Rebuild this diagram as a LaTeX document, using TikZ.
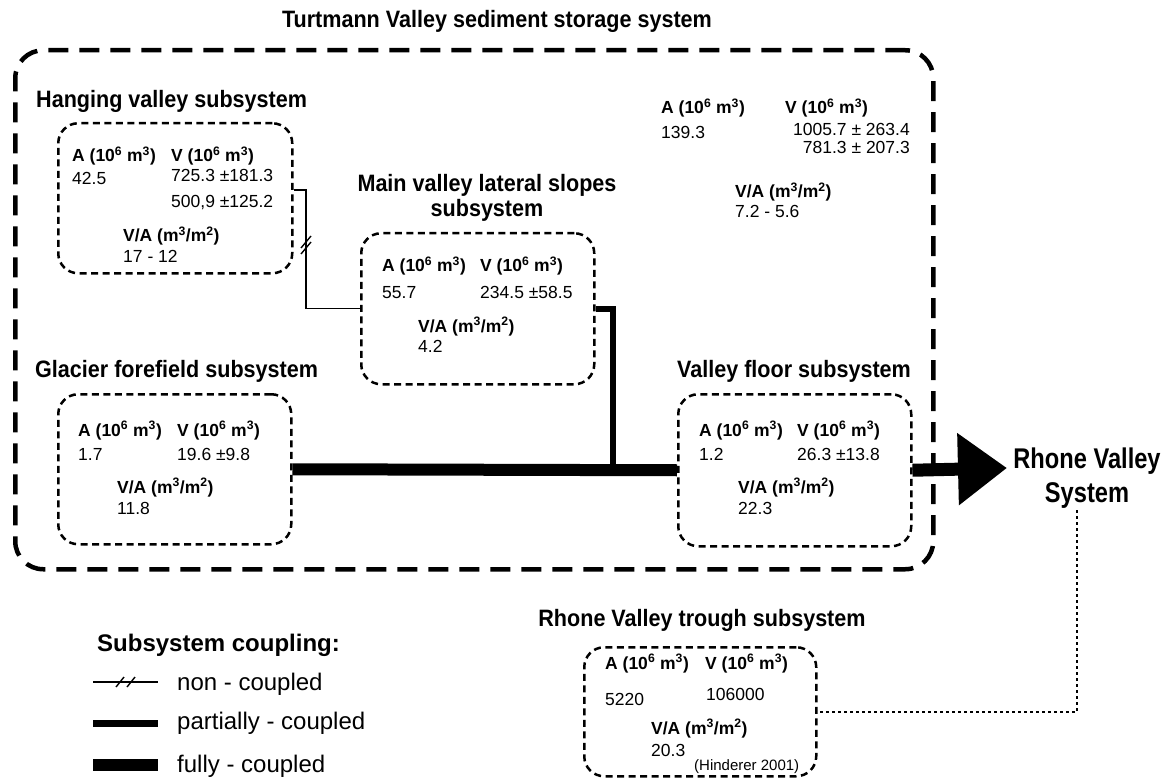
\documentclass[tikz,border=0pt]{standalone}
\usepackage{fontspec}
\setmainfont{Liberation Sans}
\newfontfamily\condfont[FakeStretch=0.91]{Liberation Sans}
\newfontfamily\narrowfont[FakeStretch=0.83]{Liberation Sans}
\usetikzlibrary{arrows.meta}

% unit labels used in every storage box
\newcommand\Aunit{A (10\textsuperscript{6} m\textsuperscript{3})}
\newcommand\Vunit{V (10\textsuperscript{6} m\textsuperscript{3})}
\newcommand\VAunit{V/A (m\textsuperscript{3}/m\textsuperscript{2})}

\tikzset{
  outerbox/.style={draw, line width=4.5pt, dash pattern=on 20pt off 11pt,
    rounded corners=28pt, inner sep=0pt, anchor=north west},
  sysbox/.style={draw, line width=2.5pt, dash pattern=on 7pt off 4.5pt,
    rounded corners=20pt, inner sep=0pt, anchor=north west},
  ttl/.style={font=\condfont\bfseries\fontsize{23.7}{25.5}\selectfont, inner sep=0pt},
  lab/.style={font=\bfseries\fontsize{17.5}{20}\selectfont, inner sep=0pt, anchor=base west},
  val/.style={font=\fontsize{17.5}{20}\selectfont, inner sep=0pt, anchor=base west},
  legtitle/.style={font=\bfseries\fontsize{24}{28}\selectfont, inner sep=0pt, anchor=base west},
  legtext/.style={font=\fontsize{24}{28}\selectfont, inner sep=0pt, anchor=base west},
  noncoup/.style={line width=1.4pt},
  partcoup/.style={line width=6pt},
  fullcoup/.style={line width=12pt},
  dotline/.style={line width=1.5pt, dash pattern=on 3pt off 3pt},
}

\begin{document}
\begin{tikzpicture}[x=1pt,y=-1pt]
\useasboundingbox (0,0) rectangle (1170,778);

% ---------- whole valley ----------
\node[ttl, anchor=base] (ttlall) at (497,28) {Turtmann Valley sediment storage system};
\node[outerbox, minimum width=918pt, minimum height=519pt] (basin) at (13,48) {};

\node[lab] (allA) at (661,114) {\Aunit};
\node[lab] (allV) at (785,114) {\Vunit};
\node[val] (allAv) at (661,139) {139.3};
\node[val, anchor=base east] (allV1) at (910,136) {1005.7 ± 263.4};
\node[val, anchor=base east] (allV2) at (910,154) {781.3 ± 207.3};
\node[lab] (allVA) at (735,198) {\VAunit};
\node[val] (allVAv) at (735,218) {7.2 - 5.6};

% ---------- hanging valley ----------
\node[ttl, anchor=base west] (ttlhang) at (36,108) {Hanging valley subsystem};
\node[sysbox, minimum width=234pt, minimum height=150pt] (hang) at (57,122) {};
\node[lab] (hangA) at (72,162) {\Aunit};
\node[lab] (hangV) at (171,162) {\Vunit};
\node[val] (hangAv) at (72,185) {42.5};
\node[val] (hangV1) at (171,182) {725.3 ±181.3};
\node[val] (hangV2) at (171,208) {500,9 ±125.2};
\node[lab] (hangVA) at (123,242) {\VAunit};
\node[val] (hangVAv) at (123,262) {17 - 12};

% ---------- main valley lateral slopes ----------
\node[ttl, anchor=base, align=center] (ttlmain) at (487,217) {Main valley lateral slopes\\subsystem};
\node[sysbox, minimum width=233pt, minimum height=151pt] (main) at (360,232) {};
\node[lab] (mainA) at (382,272) {\Aunit};
\node[lab] (mainV) at (480,272) {\Vunit};
\node[val] (mainAv) at (382,298) {55.7};
\node[val] (mainV1) at (480,298) {234.5 ±58.5};
\node[lab] (mainVA) at (418,332) {\VAunit};
\node[val] (mainVAv) at (418,352) {4.2};

% ---------- glacier forefield ----------
\node[ttl, anchor=base west] (ttlglac) at (35,377) {Glacier forefield subsystem};
\node[sysbox, minimum width=233pt, minimum height=150pt] (glac) at (57,393) {};
\node[lab] (glacA) at (78,436) {\Aunit};
\node[lab] (glacV) at (177,436) {\Vunit};
\node[val] (glacAv) at (78,460) {1.7};
\node[val] (glacV1) at (177,460) {19.6 ±9.8};
\node[lab] (glacVA) at (117,493) {\VAunit};
\node[val] (glacVAv) at (117,514) {11.8};

% ---------- valley floor ----------
\node[ttl, anchor=base] (ttlfloor) at (794,377) {Valley floor subsystem};
\node[sysbox, minimum width=233pt, minimum height=152pt] (vfloor) at (677,393) {};
\node[lab] (floorA) at (699,436) {\Aunit};
\node[lab] (floorV) at (797,436) {\Vunit};
\node[val] (floorAv) at (699,460) {1.2};
\node[val] (floorV1) at (797,460) {26.3 ±13.8};
\node[lab] (floorVA) at (738,493) {\VAunit};
\node[val] (floorVAv) at (738,514) {22.3};

% ---------- Rhone valley ----------
\node[font=\narrowfont\bfseries\fontsize{28.5}{34}\selectfont, inner sep=0pt,
      anchor=base, align=center] (rvs) at (1087,502) {Rhone Valley\\System};

\node[ttl, anchor=base] (ttltrough) at (702,626) {Rhone Valley trough subsystem};
\node[sysbox, minimum width=232pt, minimum height=129pt] (trough) at (583,646) {};
\node[lab] (troughA) at (605,669) {\Aunit};
\node[lab] (troughV) at (705,669) {\Vunit};
\node[val] (troughAv) at (605,705) {5220};
\node[val] (troughV1) at (706,700) {106000};
\node[lab] (troughVA) at (651,734) {\VAunit};
\node[val] (troughVAv) at (651,756) {20.3};
\node[font=\fontsize{15}{17}\selectfont, inner sep=0pt, anchor=base west] (troughsrc) at (694,770) {(Hinderer 2001)};

% ---------- couplings ----------
% non-coupled: hanging valley -> lateral slopes
\coordinate (ncbend) at (306,190);
\draw[noncoup] (hang.east |- ncbend) -- (ncbend) |- (main.west);
\coordinate (ncslash) at (306,245);
\draw[noncoup] ([shift={(-5,3)}]ncslash) -- ([shift={(5,-9)}]ncslash);
\draw[noncoup] ([shift={(-5,9)}]ncslash) -- ([shift={(5,-3)}]ncslash);

% fully coupled: glacier forefield -> valley floor
\draw[fullcoup] (glac.east) -- (vfloor.west);

% partially coupled: lateral slopes -> valley floor line
\coordinate (pcjoin) at (613,468);
\draw[partcoup] (main.east) -| (pcjoin);

% export to the Rhone valley
\coordinate (tip) at (1007,468);
\draw[fullcoup, line width=13pt, -{Triangle[length=49pt,width=69pt]}] (vfloor.east) -- (tip);

% link between the Rhone system and its trough
\coordinate (dlx) at (1077,0);
\draw[dotline] ([yshift=-2pt]rvs.south -| dlx) |- (trough.east);

% ---------- legend ----------
\node[legtitle] (legt) at (97,651) {Subsystem coupling:};
\coordinate (l1a) at (93,682);  \coordinate (l1b) at (158,682);
\coordinate (l2a) at (93,723);  \coordinate (l2b) at (158,723);
\coordinate (l3a) at (93,765);  \coordinate (l3b) at (158,765);
\draw[noncoup] (l1a) -- (l1b);
\draw[noncoup] (116,687) -- (124,677);
\draw[noncoup] (127,687) -- (135,677);
\draw[partcoup, line width=7pt] (l2a) -- (l2b);
\draw[fullcoup] (l3a) -- (l3b);
\node[legtext] (leg1) at (177,690) {non - coupled};
\node[legtext] (leg2) at (177,729) {partially - coupled};
\node[legtext] (leg3) at (177,772) {fully - coupled};
\end{tikzpicture}
\end{document}
